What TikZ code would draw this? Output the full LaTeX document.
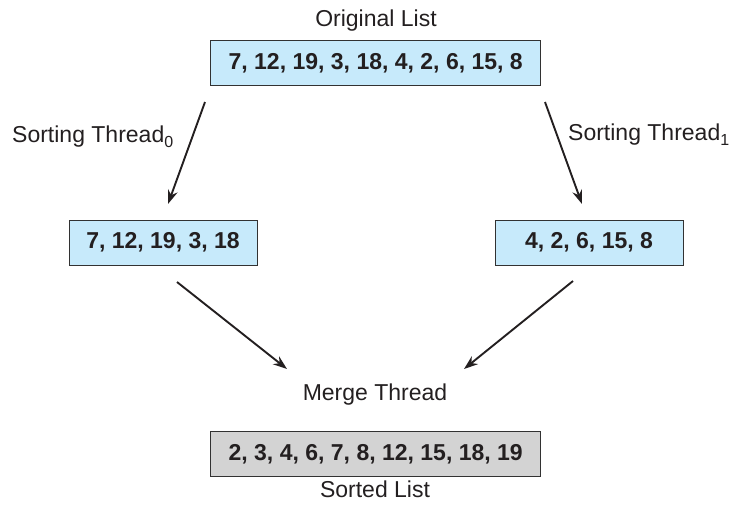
\documentclass[tikz,border=0pt]{standalone}
\usepackage{fontspec}
\setmainfont{Liberation Sans}
\usetikzlibrary{arrows.meta}
\definecolor{lightblue}{RGB}{199,234,251}
\definecolor{lightgray2}{RGB}{211,211,211}
\definecolor{edgegray}{RGB}{50,50,50}
\definecolor{inkc}{RGB}{35,31,32}
\newcommand{\subnum}[1]{\raisebox{-5pt}{\fontsize{16}{16}\selectfont #1}}
\begin{document}
\begin{tikzpicture}[x=1pt,y=-1pt,
  listbox/.style={draw=edgegray,line width=0.9pt,inner sep=0pt,anchor=center,
    font=\fontsize{23}{27}\selectfont\bfseries,text=inkc},
  label/.style={inner sep=0pt,font=\fontsize{23}{27}\selectfont,text=inkc},
  conn/.style={line width=1.9pt,inkc,-{Stealth[length=14pt,width=10pt]}}]
\useasboundingbox (0,0) rectangle (739,507);
\node[label] (origlbl) at (376,21) {Original List};
\node[listbox,fill=lightblue,minimum width=330pt,minimum height=45pt] (orig) at (375.7,63.3) {7, 12, 19, 3, 18, 4, 2, 6, 15, 8};
\node[listbox,fill=lightblue,minimum width=188pt,minimum height=45pt] (left) at (163,242.5) {7, 12, 19, 3, 18};
\node[listbox,fill=lightblue,minimum width=188pt,minimum height=45pt] (right) at (589,242.5) {4, 2, 6, 15, 8};
\node[listbox,fill=lightgray2,minimum width=330pt,minimum height=45pt] (sorted) at (375.7,454) {2, 3, 4, 6, 7, 8, 12, 15, 18, 19};
\node[label,anchor=west] (st0) at (12,137) {Sorting Thread\subnum{0}};
\node[label,anchor=west] (st1) at (568,135) {Sorting Thread\subnum{1}};
\node[label] (merge) at (375,395) {Merge Thread};
\node[label] (sortlbl) at (375,489) {Sorted List};
\coordinate (a0s) at (205,102);
\coordinate (a0e) at (168,204);
\coordinate (a1s) at (545,102);
\coordinate (a1e) at (582,204);
\coordinate (b0s) at (177,282);
\coordinate (b0e) at (287,369);
\coordinate (b1s) at (573,281);
\coordinate (b1e) at (464,369);
\draw[conn] (a0s) -- (a0e);
\draw[conn] (a1s) -- (a1e);
\draw[conn] (b0s) -- (b0e);
\draw[conn] (b1s) -- (b1e);
\end{tikzpicture}
\end{document}
